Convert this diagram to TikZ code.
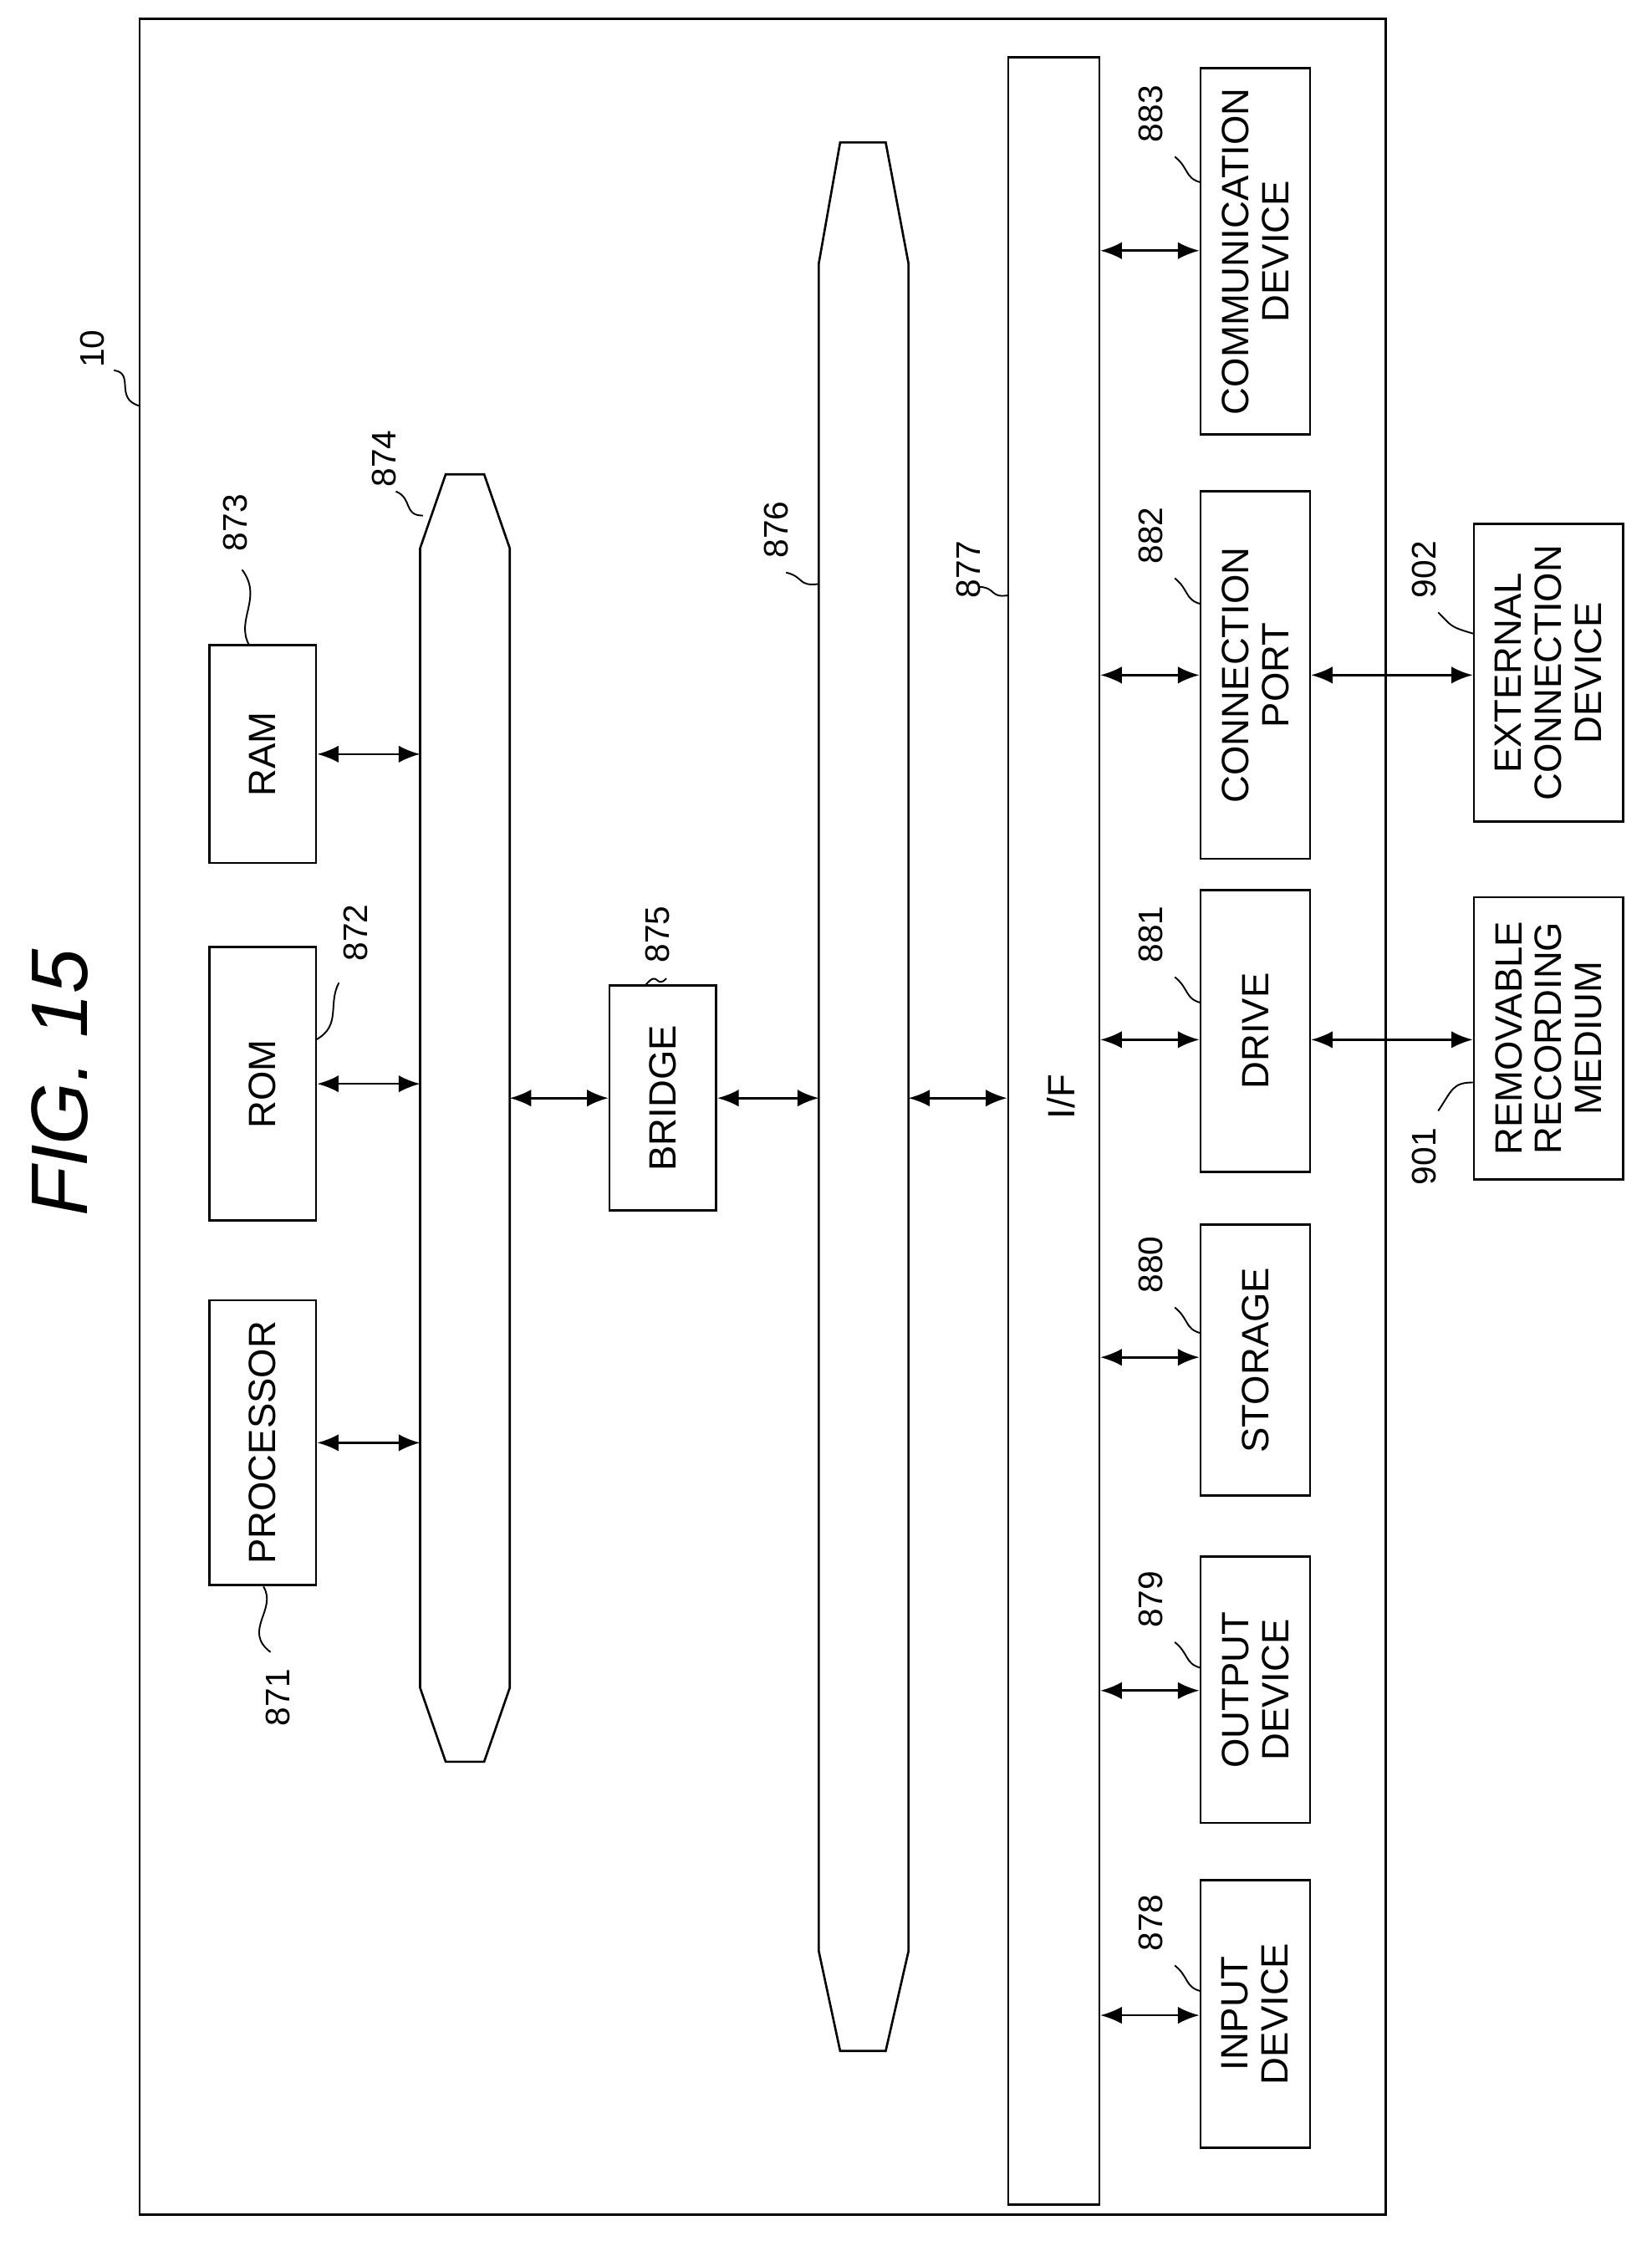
\documentclass[tikz,border=0pt]{standalone}
\usepackage{fontspec}
\setmainfont{Liberation Sans}
\usetikzlibrary{arrows.meta}
\begin{document}
\begin{tikzpicture}[x=0.05cm,y=-0.05cm,line width=2.2pt,
  box/.style={draw,rotate=90,inner sep=0pt,align=center,font=\fontsize{38}{40}\selectfont},
  lbl/.style={rotate=90,inner sep=2pt,font=\fontsize{34}{36}\selectfont},
  arr/.style={{Latex[length=0.75cm,width=0.6cm]}-{Latex[length=0.75cm,width=0.6cm]}},
  lead/.style={line width=1.6pt}]
\useasboundingbox (0,0) rectangle (1160,1577);
\node[draw,minimum width=43.75cm,minimum height=77.1cm,inner sep=0pt] (frame) at (535.5,784) {};
\node[rotate=90,font=\fontsize{80}{80}\selectfont\itshape] (title) at (42,760) {FIG. 15};
% left column
\node[box,minimum width=10cm,minimum height=3.75cm] (proc) at (184.5,1013) {PROCESSOR};
\node[box,minimum width=9.6cm,minimum height=3.75cm] (rom) at (184.5,761) {ROM};
\node[box,minimum width=7.65cm,minimum height=3.75cm] (ram) at (184.5,529.5) {RAM};
\node[box,minimum width=7.9cm,minimum height=3.75cm] (bridge) at (465.5,771) {BRIDGE};
% buses
\draw (313,333) -- (340,333) -- (358,385) -- (358,1185) -- (340,1237) -- (313,1237) -- (295,1185) -- (295,385) -- cycle;
\coordinate (b874w) at (295,771); \coordinate (b874e) at (358,771);
\draw (590,100) -- (622,100) -- (638,185) -- (638,1370) -- (622,1440) -- (590,1440) -- (575,1370) -- (575,185) -- cycle;
\coordinate (b876w) at (575,771); \coordinate (b876e) at (638,771);
\node[box,minimum width=75.4cm,minimum height=3.2cm] (if) at (740,794) {};
\node[rotate=90,font=\fontsize{38}{40}\selectfont] (iflabel) at (745,770) {I/F};
% right column
\node[box,minimum width=9.4cm,minimum height=3.85cm] (in) at (881.5,1414) {INPUT\\DEVICE};
\node[box,minimum width=9.35cm,minimum height=3.85cm] (out) at (881.5,1186.5) {OUTPUT\\DEVICE};
\node[box,minimum width=9.5cm,minimum height=3.85cm] (sto) at (881.5,955) {STORAGE};
\node[box,minimum width=9.9cm,minimum height=3.85cm] (drv) at (881.5,724) {DRIVE};
\node[box,minimum width=12.9cm,minimum height=3.85cm] (port) at (881.5,474) {CONNECTION\\PORT};
\node[box,minimum width=12.85cm,minimum height=3.85cm] (comm) at (881.5,176.5) {COMMUNICATION\\DEVICE};
\node[box,minimum width=10.45cm,minimum height=5.25cm] (ext) at (1087.5,472.5) {EXTERNAL\\CONNECTION\\DEVICE};
\node[box,minimum width=9.9cm,minimum height=5.25cm] (rem) at (1087.5,729) {REMOVABLE\\RECORDING\\MEDIUM};
% arrows
\draw[arr] (proc.south) -- (proc.south -| b874w);
\draw[arr] (rom.south) -- (rom.south -| b874w);
\draw[arr] (ram.south) -- (ram.south -| b874w);
\draw[arr] (b874e) -- (bridge.north);
\draw[arr] (bridge.south) -- (b876w);
\draw[arr] (b876e) -- (b876e -| if.north);
\foreach \n/\yy in {in/1415,out/1187,sto/953,drv/730,port/474,comm/176}{
  \draw[arr] (if.south |- 0,\yy) -- (\n.north |- 0,\yy);}
\draw[arr] (drv.south |- 0,730) -- (rem.north |- 0,730);
\draw[arr] (port.south |- 0,474) -- (ext.north |- 0,474);
% labels
\node[lbl] (l10) at (65,245) {10};
\draw[lead] (80,260) .. controls (95,262) and (80,280) .. (98,285);
\node[lbl] (l871) at (195,1192) {871};
\draw[lead] (190,1160) .. controls (170,1145) and (195,1130) .. (185,1114);
\node[lbl] (l872) at (250,655) {872};
\draw[lead] (238,690) .. controls (230,705) and (240,720) .. (222,730);
\node[lbl] (l873) at (165,367) {873};
\draw[lead] (170,400) .. controls (185,420) and (165,435) .. (175,453);
\node[lbl] (l874) at (270,322) {874};
\draw[lead] (278,345) .. controls (290,350) and (283,362) .. (297,362);
\node[lbl] (l875) at (462,656) {875};
\draw[lead] (468,687) .. controls (460,695) and (463,680) .. (453,692);
\node[lbl] (l876) at (545,372) {876};
\draw[lead] (552,402) .. controls (565,405) and (560,412) .. (575,410);
\node[lbl] (l877) at (680,400) {877};
\draw[lead] (688,412) .. controls (700,413) and (695,420) .. (708,418);
\foreach \nm/\yy in {878/1350,879/1123,880/888,881/656,882/376,883/80}{
  \node[lbl] (l\nm) at (808,\yy) {\nm};
  \draw[lead] (825,\yy+30) .. controls (835,\yy+38) and (832,\yy+45) .. (843,\yy+48);}
\node[lbl] (l902) at (1000,400) {902};
\draw[lead] (1010,430) .. controls (1020,440) and (1018,440) .. (1035,445);
\node[lbl] (l901) at (1000,812) {901};
\draw[lead] (1010,780) .. controls (1020,765) and (1020,760) .. (1035,760);
\end{tikzpicture}
\end{document}
